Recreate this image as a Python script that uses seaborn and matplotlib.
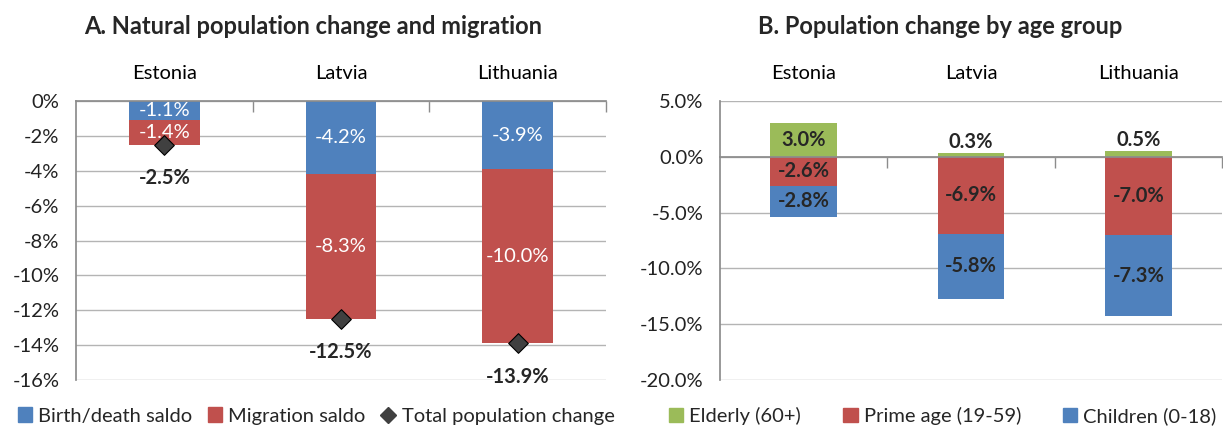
import numpy as np
import pandas as pd
import matplotlib
matplotlib.use("Agg")
import matplotlib.pyplot as plt
from matplotlib.patches import Patch
from matplotlib.lines import Line2D
from matplotlib.ticker import FuncFormatter, FixedLocator
import seaborn as sns

# data
countries = ["Estonia", "Latvia", "Lithuania"]

# panel A: natural change vs migration (% of population)
birth_death = [-1.1, -4.2, -3.9]
migration = [-1.4, -8.3, -10.0]
total_change = [-2.5, -12.5, -13.9]

# panel B: change by age group (%)
elderly = [3.0, 0.3, 0.5]
prime_age = [-2.6, -6.9, -7.0]
children = [-2.8, -5.8, -7.3]

BLUE = "#4F81BD"
RED = "#C0504D"
GREEN = "#9BBB59"
DIAMOND = "#404040"
GRID = "#b4b4b4"
AXIS = "#8c8c8c"
FS = 14.5

sns.set_theme(style="white")
plt.rcParams["font.family"] = ["Lato", "DejaVu Sans"]

fig = plt.figure(figsize=(12.23, 4.30), dpi=100)
ax_a = fig.add_axes([76 / 1223, 1 - 380 / 430, 530 / 1223, 279 / 430])
ax_b = fig.add_axes([720 / 1223, 1 - 380 / 430, 502 / 1223, 279 / 430])


def style_axis(ax, ylim, yticks, fmt):
    ax.set_xlim(-0.5, len(countries) - 0.5)
    ax.set_ylim(*ylim)
    ax.yaxis.set_major_locator(FixedLocator(yticks))
    ax.yaxis.set_major_formatter(FuncFormatter(fmt))
    ax.grid(axis="y", color=GRID, lw=1)
    ax.set_axisbelow(True)
    ax.set_xlabel("")
    ax.set_ylabel("")
    for s in ["right", "top"]:
        ax.spines[s].set_visible(False)
    ax.spines["left"].set_color(AXIS)
    ax.spines["bottom"].set_color(AXIS)
    ax.spines["bottom"].set_position(("data", 0))
    ax.set_xticks(range(len(countries)))
    ax.set_xticklabels(countries)
    ax.xaxis.set_minor_locator(FixedLocator([0.5, 1.5, 2.5]))
    ax.tick_params(axis="x", which="major", top=True, labeltop=True,
                   bottom=False, labelbottom=False, length=0, pad=14,
                   labelsize=FS, colors="black")
    ax.tick_params(axis="x", which="minor", bottom=True, top=False,
                   direction="out", length=8, width=1, color=AXIS)
    ax.tick_params(axis="y", left=False, labelsize=FS, pad=6,
                   colors="#222222")


bar_kw = dict(order=countries, width=0.4, errorbar=None, saturation=1, linewidth=0)

# ---- Panel A ----
sns.barplot(x=countries, y=birth_death, color=BLUE, ax=ax_a, **bar_kw)
sns.barplot(x=countries, y=migration, color=RED, bottom=birth_death, ax=ax_a, **bar_kw)
x_pos = np.arange(len(countries))
ax_a.scatter(x_pos, total_change, marker="D", s=100, color=DIAMOND,
             edgecolor="black", linewidth=0.8, zorder=5)

for cont, vals in zip(ax_a.containers[:2], [birth_death, migration]):
    ax_a.bar_label(cont, labels=[f"{v:.1f}%" for v in vals], label_type="center",
                   color="white", fontsize=FS)
for xp, v in zip(x_pos, total_change):
    ax_a.annotate(f"{v:.1f}%", (xp, v), xytext=(0, -24), textcoords="offset points",
                  ha="center", va="center", fontsize=FS, fontweight="bold")

style_axis(ax_a, (-16, 0), np.arange(0, -17, -2), lambda v, p: f"{v:.0f}%")

# ---- Panel B ----
sns.barplot(x=countries, y=elderly, color=GREEN, ax=ax_b, **bar_kw)
sns.barplot(x=countries, y=prime_age, color=RED, ax=ax_b, **bar_kw)
sns.barplot(x=countries, y=children, color=BLUE, bottom=prime_age, ax=ax_b, **bar_kw)

green, red, blue = ax_b.containers[:3]
ax_b.bar_label(green, labels=[f"{v:.1f}%" if v >= 1 else "" for v in elderly],
               label_type="center", fontsize=FS, fontweight="bold")
ax_b.bar_label(green, labels=[f"{v:.1f}%" if v < 1 else "" for v in elderly],
               label_type="edge", padding=1, fontsize=FS, fontweight="bold")
ax_b.bar_label(red, labels=[f"{v:.1f}%" for v in prime_age], label_type="center",
               fontsize=FS, fontweight="bold")
ax_b.bar_label(blue, labels=[f"{v:.1f}%" for v in children], label_type="center",
               fontsize=FS, fontweight="bold")

style_axis(ax_b, (-20, 5), np.arange(5, -21, -5), lambda v, p: f"{v:.1f}%")

# titles sit a bit left of the plot-area centres, as in the original
fig.text(313 / 1223, 1 - 26 / 430, "A. Natural population change and migration",
         ha="center", va="center", fontsize=17, fontweight="bold")
fig.text(940 / 1223, 1 - 26 / 430, "B. Population change by age group",
         ha="center", va="center", fontsize=17, fontweight="bold")

# ---- legends ----
sq = dict(handlelength=0.7, handleheight=0.7, handletextpad=0.3,
          frameon=False, fontsize=FS, borderaxespad=0)
leg_a = [Patch(color=BLUE, label="Birth/death saldo"),
         Patch(color=RED, label="Migration saldo"),
         Line2D([], [], marker="D", ls="", color=DIAMOND, markersize=8,
                label="Total population change")]
fig.legend(handles=leg_a, loc="center", bbox_to_anchor=(316 / 1223, 1 - 416 / 430),
           ncol=3, columnspacing=0.8, **sq)
leg_b = [Patch(color=GREEN, label="Elderly (60+)"),
         Patch(color=RED, label="Prime age (19-59)"),
         Patch(color=BLUE, label="Children (0-18)")]
fig.legend(handles=leg_b, loc="center", bbox_to_anchor=(943 / 1223, 1 - 416 / 430),
           ncol=3, columnspacing=2.1, **sq)

fig.savefig("out.png", dpi=100, facecolor="white")
